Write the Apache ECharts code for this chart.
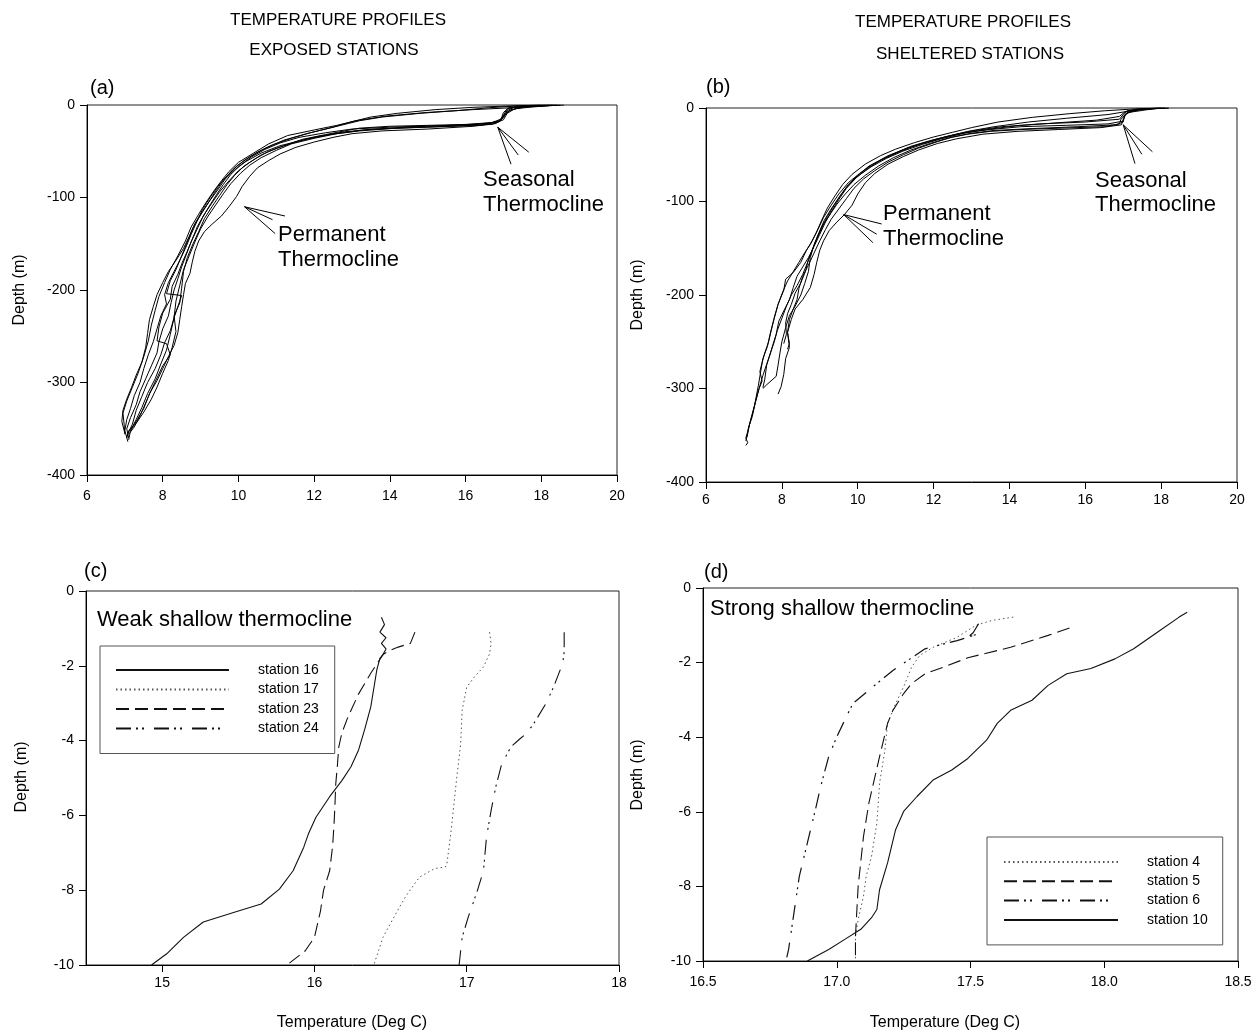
<!DOCTYPE html>
<html><head><meta charset="utf-8">
<script src="https://cdn.jsdelivr.net/npm/echarts@6/dist/echarts.min.js"></script>
<style>html,body{margin:0;padding:0;background:#fff}#chart{width:1260px;height:1032px}</style>
</head><body><div id="chart"></div>
<script>
const FONT = '"Liberation Sans", Arial, Helvetica, sans-serif';

// ---------- Panel (a): exposed stations, [temperature, depth] ----------
const exposed1 = [[18.4,0],[17.9,-1.5],[17.2,-3],[16.2,-5],[15.0,-8],[13.9,-12],[13.1,-17],[12.6,-22],[12.0,-27],[11.3,-33],[10.8,-42],[10.4,-52],[10.0,-62],[9.75,-72],[9.55,-82],[9.35,-93],[9.15,-105],[8.95,-118],[8.75,-132],[8.6,-147],[8.4,-163],[8.2,-178],[8.05,-192],[7.9,-207],[7.8,-222],[7.7,-238],[7.62,-255],[7.5,-272],[7.35,-290],[7.2,-305],[7.05,-320],[6.95,-333],[6.98,-345],[7.0,-356]];
const exposed2 = [[18.6,0],[18.0,-1],[17.3,-2],[17.1,-6],[17.0,-12],[16.9,-17],[16.6,-20],[15.6,-22],[14.4,-24],[13.3,-27],[12.6,-31],[12.0,-36],[11.4,-42],[11.0,-49],[10.6,-57],[10.3,-65],[10.05,-74],[9.8,-85],[9.6,-96],[9.4,-108],[9.2,-120],[9.0,-134],[8.85,-148],[8.7,-163],[8.55,-178],[8.45,-195],[8.35,-212],[8.3,-230],[8.2,-248],[8.1,-265],[7.95,-280],[7.8,-296],[7.6,-312],[7.45,-327],[7.3,-340],[7.15,-352],[7.1,-362]];
const exposed3 = [[18.2,0],[17.6,-2],[17.2,-5],[17.05,-10],[16.95,-15],[16.7,-19],[16.0,-21],[15.0,-22],[14.0,-23],[13.2,-25],[12.8,-28],[12.3,-32],[11.7,-37],[11.2,-44],[10.8,-50],[10.45,-58],[10.15,-66],[9.9,-76],[9.7,-86],[9.5,-98],[9.3,-110],[9.1,-123],[8.95,-137],[8.8,-150],[8.65,-165],[8.55,-180],[8.5,-198],[8.45,-214],[8.3,-228],[8.35,-245],[8.25,-262],[8.15,-276],[8.0,-290],[7.85,-305],[7.7,-318],[7.5,-332],[7.3,-344],[7.1,-352],[7.05,-360]];
const exposed4 = [[18.3,0],[17.5,-2],[17.1,-7],[17.0,-14],[16.8,-20],[16.2,-23],[15.0,-26],[13.8,-28],[13.0,-31],[12.5,-35],[12.0,-40],[11.5,-46],[11.1,-53],[10.8,-60],[10.5,-68],[10.3,-77],[10.1,-88],[9.95,-99],[9.75,-110],[9.55,-120],[9.3,-129],[9.1,-137],[8.95,-147],[8.85,-158],[8.78,-170],[8.72,-182],[8.6,-193],[8.55,-205],[8.5,-218],[8.45,-232],[8.4,-246],[8.3,-260],[8.15,-272],[8.0,-285],[7.85,-298],[7.65,-312],[7.5,-328],[7.3,-342],[7.15,-352]];
const exposed5 = [[18.0,0],[17.4,-1],[16.6,-3],[15.8,-6],[14.8,-9],[13.8,-13],[13.2,-17],[12.9,-20],[12.4,-25],[11.8,-31],[11.2,-38],[10.7,-47],[10.3,-56],[9.95,-66],[9.7,-77],[9.45,-88],[9.25,-100],[9.05,-113],[8.9,-126],[8.75,-140],[8.6,-155],[8.45,-168],[8.3,-180],[8.15,-192],[8.05,-205],[8.1,-215],[7.95,-228],[7.85,-242],[7.75,-256],[7.62,-270],[7.5,-285],[7.4,-300],[7.25,-314],[7.15,-328],[7.05,-340],[7.0,-352],[7.08,-364]];
const exposed6 = [[18.5,0],[17.8,-2],[17.3,-4],[17.1,-9],[17.0,-16],[16.7,-21],[15.5,-23],[14.2,-25],[13.2,-28],[12.4,-32],[11.8,-37],[11.1,-44],[10.6,-52],[10.2,-61],[9.9,-70],[9.65,-80],[9.45,-92],[9.25,-103],[9.05,-115],[8.85,-128],[8.7,-142],[8.55,-155],[8.35,-168],[8.15,-180],[8.0,-192],[7.85,-205],[7.75,-218],[7.65,-232],[7.6,-247],[7.55,-262],[7.45,-278],[7.3,-292],[7.18,-305],[7.05,-318],[6.95,-330],[6.92,-342],[7.0,-355]];
const exposed7 = [[18.1,0],[17.2,-1],[16.2,-2.5],[15.2,-5],[14.2,-9],[13.5,-13],[13.0,-18],[12.5,-24],[11.9,-30],[11.4,-36],[10.9,-43],[10.5,-51],[10.15,-60],[9.85,-70],[9.6,-81],[9.4,-93],[9.2,-106],[9.0,-119],[8.8,-133],[8.65,-148],[8.5,-163],[8.35,-178],[8.2,-190],[8.1,-204],[8.5,-206],[8.4,-218],[8.3,-230],[8.2,-244],[8.05,-257],[7.95,-270],[7.8,-285],[7.6,-300],[7.45,-315],[7.3,-330],[7.2,-345],[7.05,-358]];
const exposed8 = [[18.4,0],[17.7,-1],[17.15,-3],[17.0,-8],[16.95,-14],[16.85,-18],[16.3,-21],[15.2,-22.5],[14.0,-24],[13.0,-26],[12.3,-30],[11.6,-35],[11.1,-41],[10.7,-48],[10.35,-56],[10.05,-65],[9.8,-75],[9.6,-86],[9.42,-97],[9.22,-110],[9.05,-122],[8.9,-135],[8.75,-148],[8.62,-162],[8.5,-175],[8.4,-188],[8.3,-200],[8.22,-214],[8.15,-228],[8.0,-242],[7.9,-256],[7.85,-268],[7.7,-282],[7.55,-296],[7.4,-310],[7.3,-324],[7.15,-338],[7.05,-350],[7.1,-360]];
const exposed9 = [[18.3,0],[17.5,-1],[17.1,-4],[17.0,-11],[16.9,-18],[16.4,-22],[15.0,-24],[13.6,-26],[12.8,-29],[12.1,-34],[11.5,-40],[11.0,-47],[10.6,-54],[10.3,-62],[10.0,-71],[9.75,-82],[9.5,-94],[9.3,-106],[9.1,-118],[8.92,-131],[8.78,-145],[8.65,-158],[8.52,-170],[8.4,-183],[8.25,-196],[8.2,-210],[8.0,-225],[7.9,-240],[7.85,-255],[8.1,-258],[8.2,-270],[8.0,-282],[7.85,-295],[7.7,-308],[7.55,-322],[7.4,-336],[7.25,-348],[7.1,-356]];
const exposedProfiles = [exposed1, exposed2, exposed3, exposed4, exposed5, exposed6, exposed7, exposed8, exposed9];

// ---------- Panel (b): sheltered stations ----------
const sheltered1 = [[18.2,0],[17.6,-1],[17.2,-3],[16.6,-7],[15.5,-11],[14.5,-15],[13.6,-20],[12.9,-25],[12.3,-31],[11.8,-37],[11.3,-43],[10.8,-51],[10.4,-60],[10.05,-70],[9.75,-80],[9.5,-92],[9.3,-104],[9.1,-117],[8.95,-130],[8.8,-142],[8.65,-152],[8.5,-165],[8.3,-176],[8.1,-183],[8.05,-195],[7.9,-210],[7.8,-225],[7.7,-240],[7.62,-255],[7.5,-268],[7.45,-280],[7.38,-297],[7.28,-318],[7.18,-333],[7.1,-346],[7.05,-353],[7.1,-358],[7.05,-361]];
const sheltered2 = [[18.0,0],[17.5,-1.5],[17.1,-5],[17.0,-10],[17.0,-15],[16.8,-18],[15.8,-20],[14.6,-22],[13.6,-24],[13.0,-27],[12.5,-31],[12.1,-36],[11.6,-43],[11.2,-50],[10.8,-58],[10.45,-67],[10.15,-76],[9.9,-86],[9.7,-97],[9.5,-108],[9.3,-119],[9.15,-130],[9.0,-142],[8.85,-155],[8.7,-168],[8.55,-180],[8.45,-193],[8.4,-205],[8.3,-215],[8.2,-226],[8.15,-240],[8.2,-252],[8.15,-258]];
const sheltered3 = [[18.1,0],[17.4,-1],[17.05,-4],[16.9,-9],[16.3,-13],[15.2,-16],[14.2,-19],[13.4,-23],[12.8,-27],[12.2,-33],[11.7,-39],[11.2,-46],[10.75,-54],[10.35,-63],[10.0,-73],[9.72,-84],[9.5,-96],[9.3,-108],[9.12,-120],[8.98,-133],[8.85,-146],[8.75,-160],[8.7,-175],[8.6,-188],[8.5,-200],[8.35,-212],[8.2,-222],[8.1,-235],[8.0,-250],[7.95,-262],[7.9,-275],[7.85,-287],[7.6,-296],[7.5,-300]];
const sheltered4 = [[17.9,0],[17.3,-2],[17.05,-7],[17.0,-13],[16.95,-18],[16.4,-21],[15.3,-23],[14.2,-25],[13.3,-28],[12.6,-33],[12.1,-38],[11.6,-45],[11.2,-52],[10.8,-60],[10.45,-70],[10.2,-80],[10.0,-92],[9.85,-104],[9.65,-114],[9.45,-122],[9.25,-131],[9.1,-142],[9.0,-152],[8.92,-165],[8.85,-178],[8.75,-192],[8.55,-205],[8.35,-215],[8.25,-226],[8.15,-240],[8.2,-256],[8.1,-268],[8.05,-285],[7.98,-298],[7.9,-306]];
const sheltered5 = [[18.0,0],[17.3,-1],[16.5,-3],[15.6,-6],[14.6,-10],[13.7,-15],[13.0,-21],[12.5,-26],[12.0,-31],[11.5,-37],[11.0,-44],[10.6,-51],[10.2,-60],[9.85,-71],[9.6,-82],[9.4,-94],[9.2,-107],[9.05,-120],[8.9,-134],[8.75,-146],[8.6,-155],[8.45,-165],[8.3,-175],[8.15,-185],[8.02,-197],[7.9,-210],[7.8,-224],[7.72,-238],[7.65,-250],[7.55,-262],[7.48,-272],[7.42,-282],[7.48,-292],[7.4,-300],[7.3,-315],[7.22,-328],[7.15,-338],[7.1,-348],[7.05,-356]];
const sheltered6 = [[18.2,0],[17.7,-1],[17.2,-2.5],[17.05,-8],[17.0,-14],[16.6,-17],[15.5,-18.5],[14.3,-20],[13.5,-23],[12.9,-26],[12.4,-30],[11.9,-35],[11.4,-41],[11.0,-48],[10.6,-56],[10.25,-65],[9.95,-75],[9.7,-86],[9.5,-98],[9.32,-110],[9.15,-122],[9.0,-135],[8.85,-148],[8.7,-160],[8.55,-170],[8.4,-180],[8.3,-192],[8.2,-205],[8.05,-217],[7.92,-228],[7.85,-242],[7.75,-255],[7.7,-262],[7.6,-275],[7.55,-290],[7.5,-299]];
const sheltered7 = [[18.1,0],[17.5,-1],[17.1,-3],[17.0,-7],[16.9,-12],[16.0,-15],[14.8,-17],[13.8,-20],[13.1,-24],[12.6,-28],[12.1,-33],[11.6,-39],[11.15,-46],[10.7,-54],[10.3,-62],[10.0,-72],[9.75,-82],[9.55,-93],[9.38,-104],[9.2,-116],[9.05,-128],[8.92,-140],[8.8,-152],[8.68,-165],[8.55,-178],[8.4,-190],[8.25,-200],[8.12,-212],[8.0,-225],[7.88,-238],[7.8,-250],[7.7,-262],[7.6,-274],[7.5,-286],[7.4,-300],[7.3,-315],[7.22,-330],[7.12,-342],[7.08,-352]];
const sheltered8 = [[18.0,0],[17.6,-2],[17.1,-5],[16.95,-11],[16.9,-17],[16.5,-20],[15.4,-21.5],[14.3,-23],[13.5,-25],[12.9,-28],[12.4,-32],[11.9,-38],[11.4,-45],[10.95,-53],[10.55,-62],[10.2,-72],[9.9,-82],[9.65,-93],[9.45,-103],[9.3,-112],[9.1,-124],[8.95,-137],[8.82,-150],[8.7,-162],[8.62,-175],[8.5,-187],[8.35,-198],[8.25,-210],[8.15,-220],[8.1,-230],[8.12,-242],[8.05,-252]];
const shelteredProfiles = [sheltered1, sheltered2, sheltered3, sheltered4, sheltered5, sheltered6, sheltered7, sheltered8];

// ---------- Annotation pointer lines (data coordinates) ----------
const seasonalPointersA = [[[16.85,-24],[17.2,-64]],[[16.85,-24],[17.39,-54]],[[16.85,-24],[17.67,-51]]];
const permanentPointersA = [[[10.16,-110],[10.97,-139]],[[10.16,-110],[10.9,-124]],[[10.16,-110],[11.23,-120]]];
const seasonalPointersB = [[[17.0,-18],[17.31,-59.5]],[[17.0,-18],[17.49,-49.4]],[[17.0,-18],[17.77,-46.8]]];
const permanentPointersB = [[[9.63,-114],[10.63,-124]],[[9.63,-114],[10.5,-135]],[[9.63,-114],[10.4,-144]]];

// ---------- Panel (c): weak shallow thermocline ----------
const namesC = ['station 16','station 17','station 23','station 24'];
const station16 = [[16.44,-0.7],[16.46,-0.9],[16.43,-1.1],[16.47,-1.25],[16.44,-1.4],[16.47,-1.55],[16.45,-1.7],[16.43,-1.8],[16.41,-2.1],[16.39,-2.6],[16.37,-3.1],[16.33,-3.7],[16.29,-4.25],[16.24,-4.7],[16.18,-5.07],[16.1,-5.5],[16.01,-6.05],[15.96,-6.5],[15.93,-6.85],[15.86,-7.48],[15.77,-7.97],[15.65,-8.37],[15.49,-8.57],[15.27,-8.85],[15.14,-9.26],[15.03,-9.7],[14.93,-10]];
const station17 = [[17.15,-1.1],[17.16,-1.4],[17.15,-1.68],[17.11,-2.03],[17.05,-2.3],[17.0,-2.57],[16.97,-3.19],[16.96,-4.09],[16.93,-5.16],[16.9,-6.32],[16.87,-7.3],[16.86,-7.38],[16.79,-7.42],[16.69,-7.65],[16.61,-8.1],[16.57,-8.37],[16.51,-8.81],[16.45,-9.26],[16.39,-10]];
const station23 = [[16.66,-1.1],[16.63,-1.4],[16.55,-1.5],[16.49,-1.6],[16.45,-1.7],[16.37,-2.2],[16.29,-2.75],[16.22,-3.37],[16.18,-3.8],[16.16,-4.17],[16.15,-4.7],[16.14,-5.16],[16.135,-5.7],[16.13,-6.14],[16.12,-6.8],[16.1,-7.48],[16.06,-8.0],[16.04,-8.55],[16.0,-9.26],[15.94,-9.62],[15.82,-10]];
const station24 = [[17.64,-1.1],[17.64,-1.4],[17.64,-1.63],[17.63,-1.94],[17.57,-2.57],[17.52,-3.01],[17.44,-3.55],[17.39,-3.82],[17.35,-3.95],[17.29,-4.17],[17.23,-4.62],[17.19,-5.25],[17.16,-5.87],[17.13,-6.58],[17.11,-7.48],[17.07,-8.01],[17.01,-8.72],[16.97,-9.26],[16.95,-10]];
const ticksCX = [15, 16, 17, 18];

// ---------- Panel (d): strong shallow thermocline ----------
const namesD = ['station 4','station 5','station 6','station 10'];
const station4 = [[17.66,-0.78],[17.58,-0.87],[17.52,-1.0],[17.45,-1.32],[17.36,-1.59],[17.31,-1.81],[17.28,-2.12],[17.25,-2.65],[17.22,-3.1],[17.19,-3.63],[17.18,-4.35],[17.16,-5.24],[17.15,-6.3],[17.13,-7.2],[17.11,-7.73],[17.1,-8.26],[17.08,-8.89],[17.07,-9.33],[17.07,-10]];
const station5 = [[17.87,-1.07],[17.79,-1.27],[17.65,-1.59],[17.49,-1.87],[17.4,-2.12],[17.33,-2.3],[17.28,-2.56],[17.25,-2.83],[17.21,-3.28],[17.19,-3.63],[17.16,-4.52],[17.12,-5.77],[17.1,-6.66],[17.08,-8.0],[17.07,-9.33],[17.07,-10]];
const station6 = [[17.53,-0.96],[17.51,-1.2],[17.49,-1.32],[17.52,-1.25],[17.45,-1.41],[17.33,-1.63],[17.21,-2.21],[17.12,-2.74],[17.06,-3.1],[17.03,-3.54],[17.0,-3.99],[16.97,-4.52],[16.94,-5.32],[16.92,-5.95],[16.89,-6.84],[16.86,-7.73],[16.84,-8.71],[16.82,-9.69],[16.81,-10]];
const station10 = [[18.31,-0.65],[18.28,-0.78],[18.2,-1.18],[18.11,-1.63],[18.04,-1.9],[17.95,-2.16],[17.86,-2.3],[17.79,-2.61],[17.73,-3.01],[17.65,-3.28],[17.6,-3.63],[17.56,-4.08],[17.49,-4.57],[17.43,-4.88],[17.36,-5.15],[17.3,-5.59],[17.25,-5.99],[17.22,-6.48],[17.19,-7.37],[17.16,-8.09],[17.15,-8.62],[17.13,-8.84],[17.09,-9.15],[17.03,-9.42],[16.97,-9.69],[16.89,-10]];

// ---------- styles ----------
const DOT = [1.5, 3];
const DASH = [13, 6];
const DASHDOTDOT = [15, 5, 2, 4, 2, 10];

function baseX(gi, min, max, interval, margin, extra) {
  return Object.assign({
    type: 'value', gridIndex: gi, min: min, max: max, interval: interval, position: 'bottom',
    axisLine: { show: true, onZero: false, lineStyle: { color: '#000', width: 1 } },
    axisTick: { show: true, length: 7, lineStyle: { color: '#000', width: 1 } },
    axisLabel: { color: '#000', fontSize: 14, fontFamily: FONT, margin: margin },
    splitLine: { show: false }
  }, extra || {});
}
function baseY(gi, min, max, interval) {
  return {
    type: 'value', gridIndex: gi, min: min, max: max, interval: interval, position: 'left',
    axisLine: { show: true, onZero: false, lineStyle: { color: '#000', width: 1 } },
    axisTick: { show: true, length: 7, lineStyle: { color: '#000', width: 1 } },
    axisLabel: { color: '#000', fontSize: 14, fontFamily: FONT, margin: 12 },
    splitLine: { show: false }
  };
}
function pointerLines(list) {
  return {
    silent: true, symbol: ['none', 'none'], animation: false,
    label: { show: false },
    lineStyle: { color: '#000', width: 1, type: 'solid' },
    emphasis: { disabled: true },
    data: list.map(p => [{ coord: p[0] }, { coord: p[1] }])
  };
}

const series = [];
exposedProfiles.forEach((p, i) => {
  const s = { type: 'line', name: 'exposed ' + (i + 1), xAxisIndex: 0, yAxisIndex: 0, data: p, symbol: 'none', silent: true,
    color: '#000', lineStyle: { color: '#000', width: 1 } };
  if (i === 0) s.markLine = pointerLines(seasonalPointersA.concat(permanentPointersA));
  series.push(s);
});
shelteredProfiles.forEach((p, i) => {
  const s = { type: 'line', name: 'sheltered ' + (i + 1), xAxisIndex: 1, yAxisIndex: 1, data: p, symbol: 'none', silent: true,
    color: '#000', lineStyle: { color: '#000', width: 1 } };
  if (i === 0) s.markLine = pointerLines(seasonalPointersB.concat(permanentPointersB));
  series.push(s);
});
const cData = [station16, station17, station23, station24];
const cStyle = [{ type: 'solid', color: '#111', width: 1.1 }, { type: DOT, color: '#555', width: 1 }, { type: DASH, color: '#111', width: 1.1 }, { type: DASHDOTDOT, color: '#111', width: 1.1 }];
cData.forEach((d, i) => series.push({ type: 'line', name: namesC[i], xAxisIndex: 2, yAxisIndex: 2, data: d, symbol: 'none', silent: true, color: '#000', lineStyle: cStyle[i] }));
const dData = [station4, station5, station6, station10];
const dStyle = [{ type: DOT, color: '#555', width: 1 }, { type: DASH, color: '#111', width: 1.1 }, { type: DASHDOTDOT, color: '#111', width: 1.2 }, { type: 'solid', color: '#111', width: 1.1 }];
dData.forEach((d, i) => series.push({ type: 'line', name: namesD[i], xAxisIndex: 3, yAxisIndex: 3, data: d, symbol: 'none', silent: true, color: '#000', lineStyle: dStyle[i] }));

function txt(x, y, text, size, align, extra) {
  return Object.assign({ type: 'text', x: x, y: y, silent: true,
    style: { text: text, font: size + 'px ' + FONT, fill: '#000', textAlign: align || 'left', textVerticalAlign: 'middle' } }, extra || {});
}

const legendCommon = {
  orient: 'vertical', selectedMode: false,
  itemWidth: 113, itemHeight: 14, itemGap: 5.5,
  itemStyle: { opacity: 0 },
  borderColor: '#555', borderWidth: 1, borderRadius: 0, backgroundColor: '#fff',
  textStyle: { fontSize: 14, fontFamily: FONT, color: '#000', lineHeight: 14, padding: [0, 0, 0, 24] }
};

const option = {
  animation: false,
  backgroundColor: '#fff',
  grid: [
    { left: 87, top: 105, width: 530, height: 370, show: true, borderColor: '#222', borderWidth: 1 },
    { left: 706, top: 108, width: 531, height: 374, show: true, borderColor: '#222', borderWidth: 1 },
    { left: 86, top: 591, width: 533, height: 374, show: true, borderColor: '#222', borderWidth: 1 },
    { left: 703, top: 588, width: 535, height: 373, show: true, borderColor: '#222', borderWidth: 1 }
  ],
  xAxis: [
    baseX(0, 6, 20, 2, 14),
    baseX(1, 6, 20, 2, 11),
    baseX(2, 14.5, 18, null, 11, { axisTick: { show: true, length: 7, customValues: ticksCX, lineStyle: { color: '#000' } },
      axisLabel: { color: '#000', fontSize: 14, fontFamily: FONT, margin: 11, customValues: ticksCX } }),
    baseX(3, 16.5, 18.5, 0.5, 14, { axisLabel: { color: '#000', fontSize: 14, fontFamily: FONT, margin: 14, formatter: v => v.toFixed(1) } })
  ],
  yAxis: [baseY(0, -400, 0, 100), baseY(1, -400, 0, 100), baseY(2, -10, 0, 2), baseY(3, -10, 0, 2)],
  legend: [
    Object.assign({}, legendCommon, { data: namesC, left: 100, top: 646, padding: [17, 16, 18, 15] }),
    Object.assign({}, legendCommon, { data: namesD, left: 987, top: 837, itemWidth: 114, itemGap: 5.3, padding: [18, 15, 18, 16] })
  ],
  graphic: [
    txt(338, 20, 'TEMPERATURE PROFILES', 17, 'center'),
    txt(334, 50, 'EXPOSED STATIONS', 17, 'center'),
    txt(963, 22, 'TEMPERATURE PROFILES', 17, 'center'),
    txt(970, 54, 'SHELTERED STATIONS', 17, 'center'),
    txt(90, 88, '(a)', 20),
    txt(706, 87, '(b)', 20),
    txt(84, 571, '(c)', 20),
    txt(704, 572, '(d)', 20),
    txt(483, 180, 'Seasonal', 22),
    txt(483, 205, 'Thermocline', 22),
    txt(278, 235, 'Permanent', 22),
    txt(278, 260, 'Thermocline', 22),
    txt(1095, 181, 'Seasonal', 22),
    txt(1095, 205, 'Thermocline', 22),
    txt(883, 214, 'Permanent', 22),
    txt(883, 239, 'Thermocline', 22),
    txt(97, 620, 'Weak shallow thermocline', 22),
    txt(710, 609, 'Strong shallow thermocline', 22),
    txt(20, 290, 'Depth (m)', 16, 'center', { rotation: Math.PI / 2 }),
    txt(638, 295, 'Depth (m)', 16, 'center', { rotation: Math.PI / 2 }),
    txt(22, 777, 'Depth (m)', 16, 'center', { rotation: Math.PI / 2 }),
    txt(638, 775, 'Depth (m)', 16, 'center', { rotation: Math.PI / 2 }),
    txt(352, 1023, 'Temperature (Deg C)', 16, 'center'),
    txt(945, 1023, 'Temperature (Deg C)', 16, 'center')
  ],
  series: series
};

const chart = echarts.init(document.getElementById('chart'), null, { renderer: 'canvas' });
chart.setOption(option);
</script>
</body></html>
